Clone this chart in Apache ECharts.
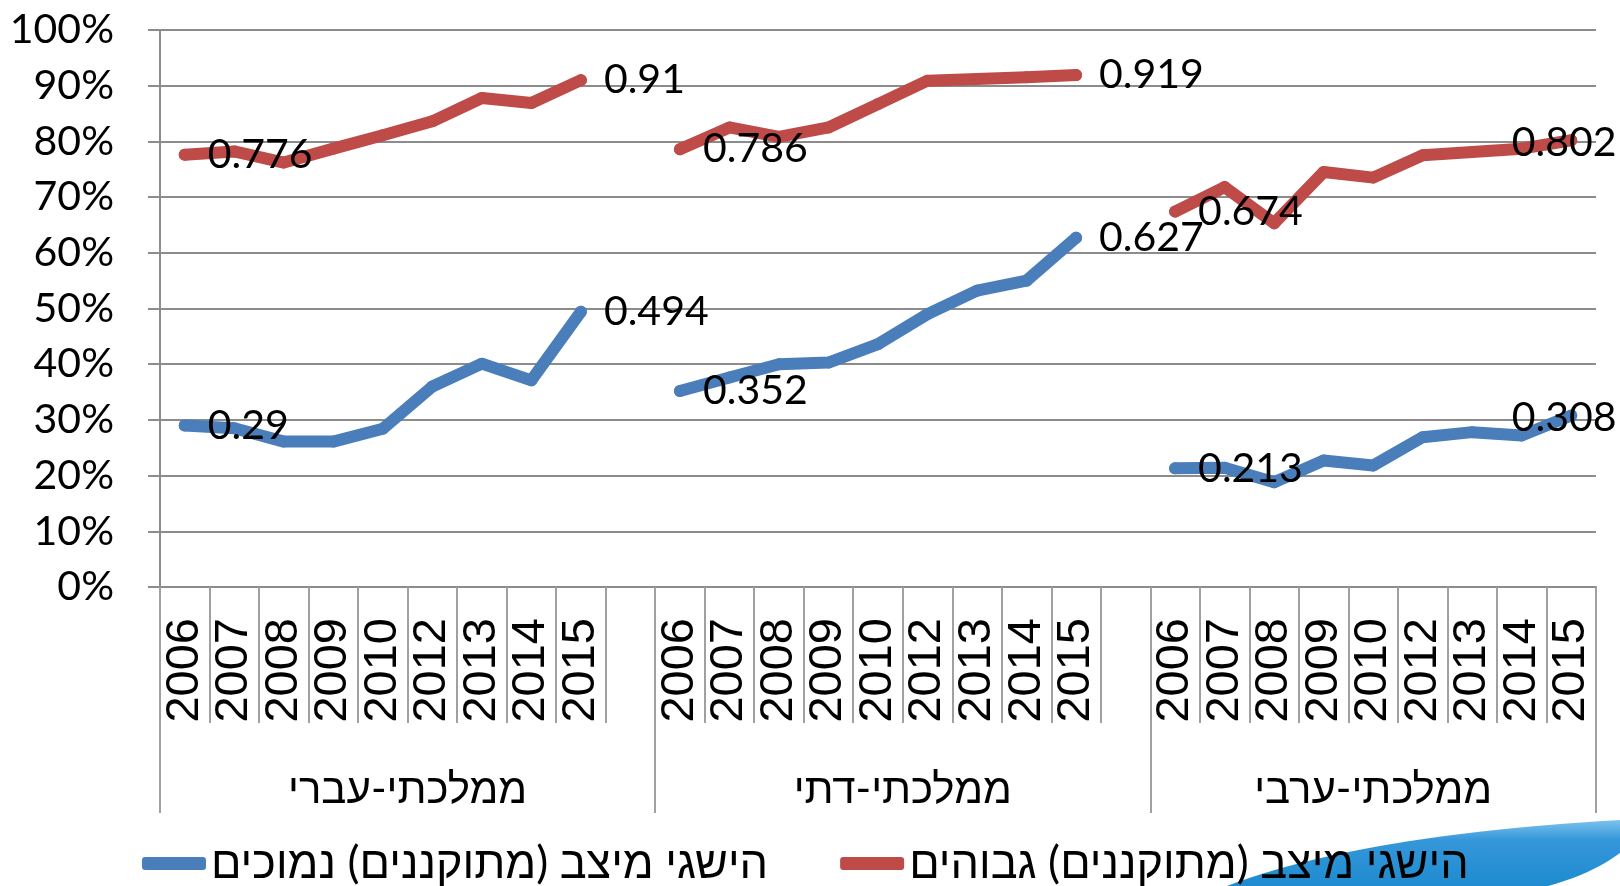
<!DOCTYPE html>
<html>
<head>
<meta charset="utf-8">
<script src="https://cdn.jsdelivr.net/npm/echarts@6/dist/echarts.min.js"></script>
<style>
  html, body { margin: 0; padding: 0; background: #fff; }
  #chart { width: 1620px; height: 886px; }
</style>
</head>
<body>
<div id="chart"></div>
<script>
const groups = ["ממלכתי-עברי", "ממלכתי-דתי", "ממלכתי-ערבי"];
const years = ["2006", "2007", "2008", "2009", "2010", "2012", "2013", "2014", "2015"];

// הישגי מיצב גבוהים
const highHebrew = [0.776, 0.782, 0.762, 0.787, 0.811, 0.836, 0.878, 0.869, 0.91];
const highReligious = [0.786, 0.825, 0.808, 0.825, 0.867, 0.909, 0.912, 0.915, 0.919];
const highArab = [0.674, 0.718, 0.653, 0.745, 0.735, 0.775, 0.781, 0.787, 0.802];

// הישגי מיצב נמוכים
const lowHebrew = [0.29, 0.285, 0.261, 0.261, 0.284, 0.36, 0.401, 0.371, 0.494];
const lowReligious = [0.352, 0.376, 0.40, 0.403, 0.436, 0.49, 0.532, 0.55, 0.627];
const lowArab = [0.213, 0.214, 0.188, 0.227, 0.218, 0.269, 0.278, 0.272, 0.308];

const seriesNames = ["הישגי מיצב (מתוקננים) נמוכים", "הישגי מיצב (מתוקננים) גבוהים"];
const yTicks = [0, 0.1, 0.2, 0.3, 0.4, 0.5, 0.6, 0.7, 0.8, 0.9, 1];

const BLUE = "#4a7ebb";
const RED = "#be4b48";
const GRID = "#8c8c8c";
const FONT = "Lato, 'Liberation Sans', sans-serif";

// categories: years per group, with one empty slot between groups
const categories = [];
const groupStart = [];
groups.forEach((g, gi) => {
  groupStart.push(categories.length);
  years.forEach((y) => categories.push(y));
  if (gi < groups.length - 1) categories.push("");
});

// label only on first and last point of each group
const buildData = (parts) => {
  const out = [];
  parts.forEach((vals, gi) => {
    vals.forEach((v, i) => {
      if (i !== 0 && i !== vals.length - 1) {
        out.push(v);
        return;
      }
      const atRightEdge = gi === parts.length - 1 && i === vals.length - 1;
      out.push({
        value: v,
        label: atRightEdge
          ? { show: true, position: "inside", offset: [-7, 2] }
          : { show: true, position: "right", distance: 17 },
      });
    });
    if (gi < parts.length - 1) out.push(null);
  });
  return out;
};

const groupLabelIndex = groupStart.map((s) => s + Math.floor(years.length / 2));

// decorative swoosh in the lower right corner (slide background)
const quad = (p0, p1, p2, steps) => {
  const pts = [];
  for (let k = 0; k <= steps; k++) {
    const t = k / steps, a = (1 - t) * (1 - t), b = 2 * (1 - t) * t, c = t * t;
    pts.push([a * p0[0] + b * p1[0] + c * p2[0], a * p0[1] + b * p1[1] + c * p2[1]]);
  }
  return pts;
};
const swoosh = quad([1227, 886], [1360, 835], [1620, 820], 24)
  .concat(quad([1620, 853], [1592, 874], [1548, 886], 10));

const lineSeries = (name, color, parts) => ({
  name: name,
  type: "line",
  data: buildData(parts),
  symbol: "circle",
  symbolSize: 12,
  showSymbol: true,
  itemStyle: { color: color, borderWidth: 0 },
  lineStyle: { color: color, width: 12, cap: "round", join: "round" },
  label: { color: "#000", fontSize: 41, fontFamily: FONT, formatter: "{c}" },
  emphasis: { disabled: true },
  animation: false,
});

const mChart = echarts.init(document.getElementById("chart"));
mChart.setOption({
  backgroundColor: "#fff",
  animation: false,
  textStyle: { fontFamily: FONT },
  grid: { left: 160, right: 24, top: 30, bottom: 299, containLabel: false },
  legend: {
    data: seriesNames,
    left: 137,
    top: 836,
    itemWidth: 64,
    itemHeight: 13,
    itemGap: 72,
    icon: "roundRect",
    textStyle: { fontSize: 45, color: "#000", fontFamily: FONT },
    z: 5,
  },
  graphic: [
    {
      type: "polygon",
      z: 0,
      silent: true,
      shape: { points: swoosh },
      style: {
        fill: {
          type: "linear", x: 0, y: 0, x2: 0, y2: 1,
          colorStops: [
            { offset: 0, color: "#7cc3ee" },
            { offset: 0.3, color: "#3597da" },
            { offset: 1, color: "#1f8bd0" },
          ],
        },
      },
    },
  ],
  xAxis: [
    {
      type: "category",
      position: "bottom",
      data: categories,
      boundaryGap: true,
      axisLine: { show: true, lineStyle: { color: GRID, width: 2 } },
      axisTick: { show: true, interval: 0, length: 136, lineStyle: { color: "#a0a0a0", width: 2 } },
      axisLabel: {
        interval: 0,
        rotate: 90,
        margin: 31,
        fontSize: 47,
        fontFamily: "'Liberation Sans', Arial, sans-serif",
        color: "#000",
        hideOverlap: false,
      },
      splitLine: { show: false },
    },
    {
      type: "category",
      position: "bottom",
      data: categories,
      boundaryGap: true,
      axisLine: { show: false },
      axisTick: {
        show: true,
        interval: (idx) => groupStart.indexOf(idx) !== -1,
        length: 226,
        lineStyle: { color: "#a0a0a0", width: 2 },
      },
      axisLabel: {
        interval: 0,
        margin: 181,
        fontSize: 42,
        color: "#000",
        hideOverlap: false,
        formatter: (value, idx) => {
          const gi = groupLabelIndex.indexOf(idx);
          if (gi === -1) return "";
          // groups with a trailing empty slot are centred half a slot further right
          return gi < groups.length - 1 ? "{s|" + groups[gi] + "}" : "{c|" + groups[gi] + "}";
        },
        rich: {
          s: { fontSize: 42, color: "#000", fontFamily: FONT, padding: [0, 0, 0, 49.5] },
          c: { fontSize: 42, color: "#000", fontFamily: FONT },
        },
      },
      splitLine: { show: false },
    },
  ],
  yAxis: {
    type: "value",
    min: yTicks[0],
    max: yTicks[yTicks.length - 1],
    interval: 0.1,
    axisLine: { show: true, lineStyle: { color: GRID, width: 2 } },
    axisTick: { show: true, length: 12, lineStyle: { color: GRID, width: 2 } },
    axisLabel: {
      margin: 46,
      fontSize: 41,
      color: "#000",
      fontFamily: FONT,
      formatter: (v) => Math.round(v * 100) + "%",
    },
    splitLine: { show: true, lineStyle: { color: GRID, width: 2 } },
  },
  series: [
    lineSeries(seriesNames[0], BLUE, [lowHebrew, lowReligious, lowArab]),
    lineSeries(seriesNames[1], RED, [highHebrew, highReligious, highArab]),
  ],
});
</script>
</body>
</html>
